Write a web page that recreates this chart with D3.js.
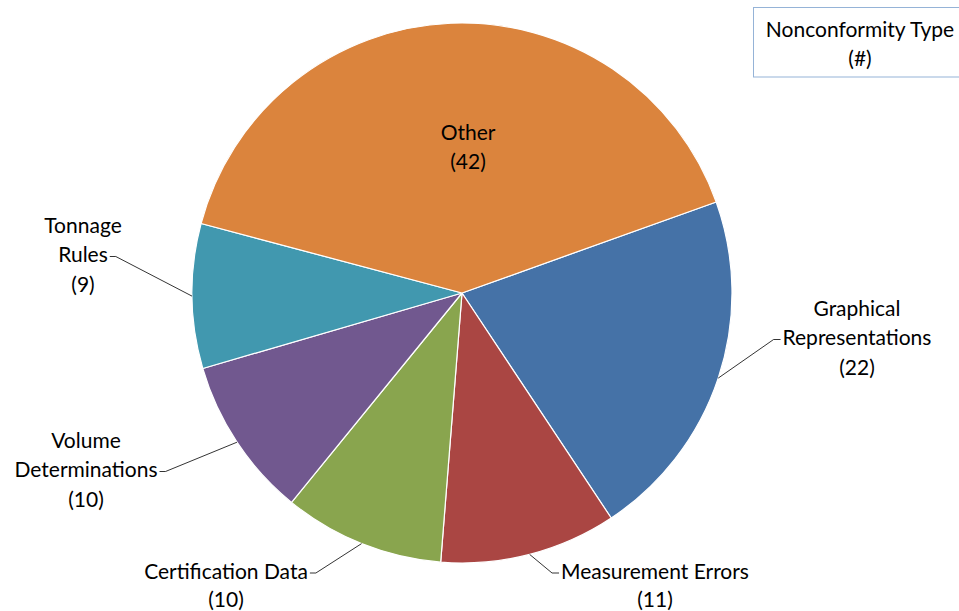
<!DOCTYPE html>
<html>
<head>
<meta charset="utf-8">
<script src="https://cdn.jsdelivr.net/npm/d3@7"></script>
<style>
  html, body { margin: 0; padding: 0; background: #fff; }
  text { font-family: Lato, "Open Sans", sans-serif; fill: #000; }
</style>
</head>
<body>
<svg id="chart" width="959" height="611"></svg>
<script>
// Nonconformity counts by type
const categories = ["Graphical Representations", "Measurement Errors", "Certification Data", "Volume Determinations", "Tonnage Rules", "Other"];
const counts = [22, 11, 10, 10, 9, 42];
const colors = ["#4572A7", "#AA4643", "#89A54E", "#71588F", "#4198AF", "#DB843D"];
// label text lines (name lines, then count in parentheses)
const labelLines = [
  ["Graphical", "Representations"],
  ["Measurement Errors"],
  ["Certification Data"],
  ["Volume", "Determinations"],
  ["Tonnage", "Rules"],
  ["Other"]
];
const legendTitle = ["Nonconformity Type", "(#)"];

const svg = d3.select("#chart");
const cx = 462, cy = 293, R = 270;
const fontSize = 21, lineH = 29.5;

const startAngle = 70.3 * Math.PI / 180;
const pie = d3.pie().sort(null).value(d => d)
  .startAngle(startAngle).endAngle(startAngle + 2 * Math.PI);
const arcs = pie(counts);
const arc = d3.arc().innerRadius(0).outerRadius(R);

const g = svg.append("g").attr("transform", `translate(${cx},${cy})`);
g.selectAll("path.slice").data(arcs).join("path")
  .attr("class", "slice")
  .attr("d", arc)
  .attr("fill", (d, i) => colors[i])
  .attr("stroke", "#fff")
  .attr("stroke-width", 1.2)
  .attr("stroke-linejoin", "round");

// label placements (text center x, first-line y, leader anchor side)
const labelPos = [
  { x: 857, y: 307, side: "left", line: 1 },
  { x: 655, y: 570, side: "left", line: 0 },
  { x: 226, y: 570, side: "right", line: 0 },
  { x: 86, y: 439, side: "right", line: 1 },
  { x: 83, y: 224, side: "right", line: 1 },
  { x: 468, y: 131, side: null, line: 0 }
];

const labels = svg.append("g");
arcs.forEach((a, i) => {
  const p = labelPos[i];
  const lines = labelLines[i].concat([`(${counts[i]})`]);
  const t = labels.append("text")
    .attr("text-anchor", "middle")
    .attr("font-size", fontSize);
  lines.forEach((s, k) => {
    t.append("tspan").attr("x", p.x).attr("y", p.y + k * (p.y > 500 ? 28.5 : lineH))
      .attr("dominant-baseline", "central").text(s);
  });
  if (!p.side) return;
  // leader line from slice edge midpoint to the label line
  const mid = (a.startAngle + a.endAngle) / 2;
  const ex = cx + R * Math.sin(mid), ey = cy - R * Math.cos(mid);
  const tmp = labels.append("text").attr("font-size", fontSize).text(labelLines[i][p.line]);
  const w = tmp.node().getComputedTextLength();
  tmp.remove();
  const ly = p.y + p.line * lineH + 3;
  const lx = p.side === "left" ? p.x - w / 2 - 2 : p.x + w / 2 + 2;
  const kx = p.side === "left" ? lx - 7 : lx + 6;
  labels.append("path")
    .attr("d", `M${ex},${ey}L${kx},${ly}L${lx},${ly}`)
    .attr("fill", "none").attr("stroke", "#000").attr("stroke-width", 0.8);
});

// legend title box
const lg = svg.append("g");
lg.append("rect").attr("x", 753.5).attr("y", 7.5).attr("width", 220).attr("height", 69.5)
  .attr("fill", "#fff").attr("stroke", "#95B3D7").attr("stroke-width", 1);
legendTitle.forEach((s, k) => {
  lg.append("text").attr("x", 860).attr("y", 28 + k * 29.5)
    .attr("text-anchor", "middle").attr("dominant-baseline", "central")
    .attr("font-size", fontSize).text(s);
});
</script>
</body>
</html>
